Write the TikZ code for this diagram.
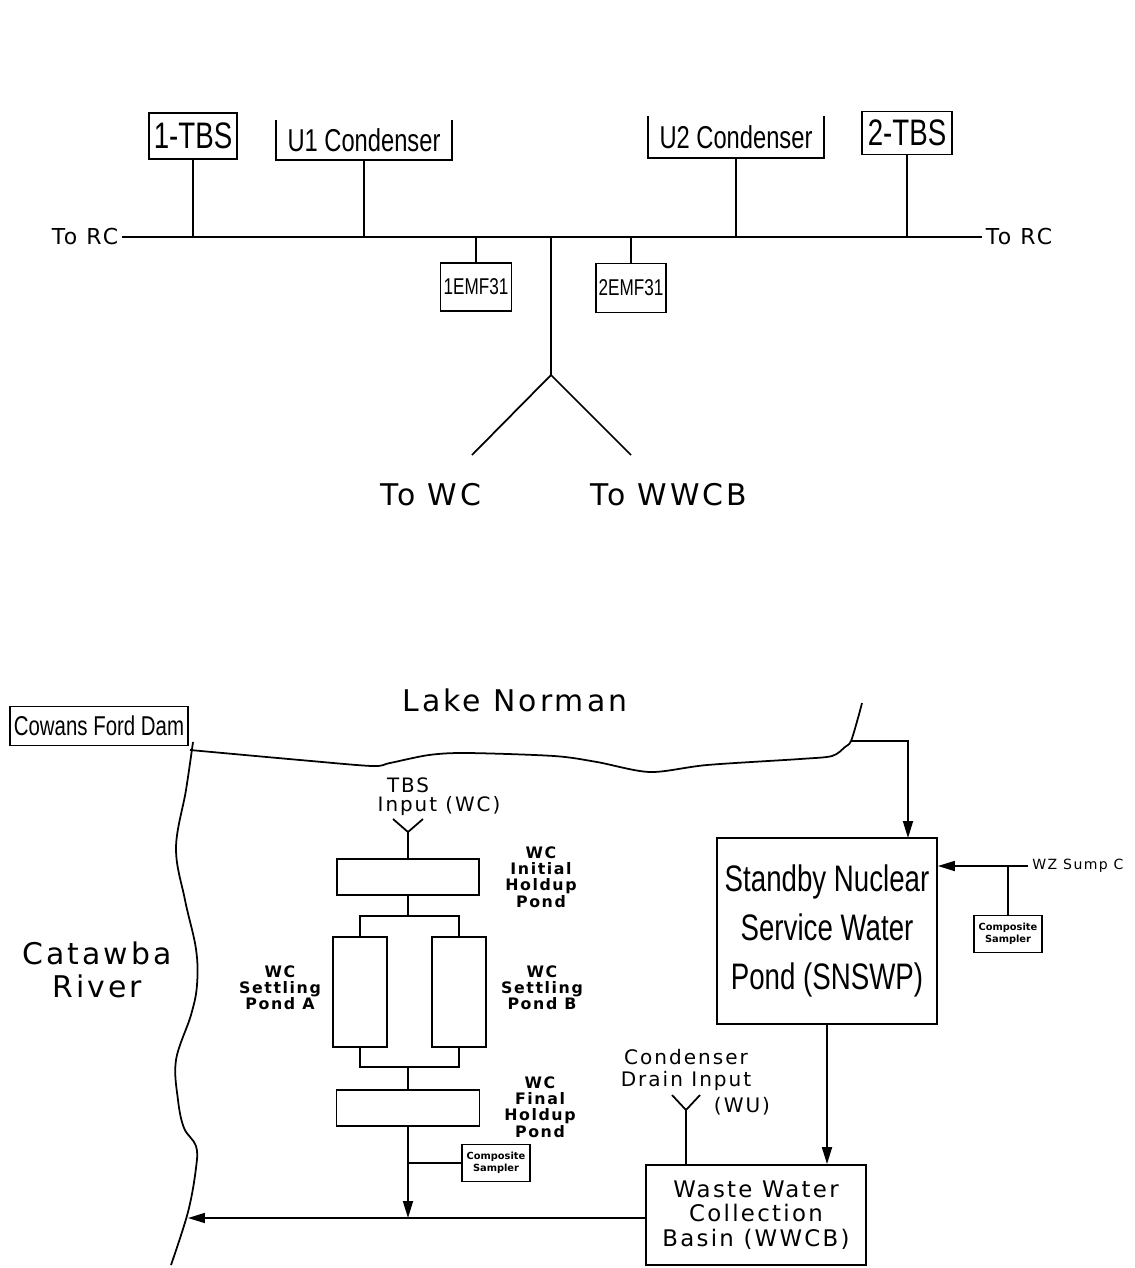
\documentclass[tikz,border=0pt]{standalone}
\usepackage{fontspec}
\setmainfont{Liberation Sans}
\newfontfamily\narrowfont[FakeStretch=0.75]{Liberation Sans}
\newfontfamily\widefont[LetterSpace=10]{DejaVu Sans}
\newfontfamily\smallfont{DejaVu Sans}
\usetikzlibrary{arrows.meta}
\newcommand\fsz[2]{\fontsize{#1}{#2}\selectfont}
\tikzset{
  tagbox/.style={draw,inner sep=0pt,font=\narrowfont},
  openbox/.style={inner sep=0pt,font=\narrowfont},
  pondbox/.style={draw,inner sep=0pt},
  sampler/.style={draw,inner sep=0pt,minimum width=1.35cm,minimum height=0.74cm,align=center,font=\smallfont\bfseries\fsz{5.6}{7}},
  txt/.style={inner sep=0pt,align=center,font=\widefont},
  pondtxt/.style={inner sep=0pt,align=center,font=\widefont\bfseries\fsz{9}{9.2}}
}

\begin{document}
\begin{tikzpicture}[x=0.02cm,y=-0.02cm,line width=1pt,>={Triangle[length=3.4mm,width=2mm]}]
  \useasboundingbox (0,0) rectangle (1135,1268);
  % colector de arriba
  \node[txt,inner sep=2pt,font=\widefont\fsz{12.5}{13}] (rcL) at (85,237) {To RC};
  \node[txt,inner sep=2pt,font=\widefont\fsz{12.5}{13}] (rcR) at (1019,237) {To RC};
  \draw (rcL.east) -- (rcR.west);
  \node[tagbox,minimum width=1.76cm,minimum height=0.92cm,font=\narrowfont\fsz{21}{23}] (tbsA) at (193,136) {1-TBS};
  \node[openbox,minimum width=3.48cm,minimum height=0.76cm,font=\narrowfont\fsz{18}{20}] (uA) at (364,140) {U1 Condenser};
  \node[openbox,minimum width=3.5cm,minimum height=0.8cm,font=\narrowfont\fsz{18}{20}] (uB) at (736,137) {U2 Condenser};
  \node[tagbox,minimum width=1.8cm,minimum height=0.86cm,font=\narrowfont\fsz{21}{23}] (tbsB) at (907,133) {2-TBS};
  \node[tagbox,minimum width=1.42cm,minimum height=0.96cm,font=\narrowfont\fsz{13}{14}] (emfA) at (476,287) {1EMF31};
  \node[tagbox,minimum width=1.4cm,minimum height=0.98cm,font=\narrowfont\fsz{13}{14}] (emfB) at (631,288) {2EMF31};
  \foreach \u in {uA,uB}
    \draw (\u.north west) -- (\u.south west) -- (\u.south east) -- (\u.north east);
  \foreach \b in {tbsA,uA,uB,tbsB}
    \draw (\b.south) -- (\b.south |- rcL.east);
  \foreach \b in {emfA,emfB}
    \draw (\b.north) -- (\b.north |- rcL.east);
  % salida en Y
  \coordinate (fork) at (551,375);
  \node[txt,font=\widefont\fsz{17}{18}] (toWC) at (431,495) {To WC};
  \node[txt,font=\widefont\fsz{17}{18}] (toWWCB) at (669,495) {To WWCB};
  \coordinate (forkL) at (472,455);
  \coordinate (forkR) at (631,455);
  \draw (fork |- rcL.east) -- (fork);
  \draw (forkL) -- (fork) -- (forkR);

  % lago y rio
  \node[txt,font=\widefont\fsz{17}{18}] (lake) at (515,700) {Lake Norman};
  \node[tagbox,minimum width=3.56cm,minimum height=0.78cm,font=\narrowfont\fsz{15.5}{17}] (dam) at (99,726) {Cowans Ford Dam};
  \node[txt,font=\widefont\fsz{17}{19}] (river) at (97,970) {Catawba\\River};
  \coordinate (lakeTap) at (851,741);
  \draw plot[smooth,tension=0.5] coordinates {(190,750) (300,760) (372,766) (390,763) (429,755) (467,753) (554,756) (597,762) (650,772) (707,765) (800,759) (832,756) (845,747) (851,741) (858,718) (862,703)};
  \draw plot[smooth,tension=0.6] coordinates {(193,742) (186,790) (176,848) (185,900) (196,949) (197,985) (191,1015) (176,1060) (178,1100) (184,1128) (196,1146) (196,1168) (188,1212) (171,1265)};
  \coordinate (riverIn) at (188,1218);

  % estanques WC
  \node[txt,font=\widefont\fsz{11.3}{12}] (tbsIn) at (408,785) {TBS};
  \node[txt,font=\widefont\fsz{11.3}{12}] (tbsIn2) at (439,806) {Input (WC)};
  \coordinate (tbsY) at (408,832);
  \draw ([xshift=-0.3cm,yshift=0.26cm]tbsY) -- (tbsY) -- ([xshift=0.3cm,yshift=0.26cm]tbsY);
  \node[pondbox,minimum width=2.84cm,minimum height=0.72cm] (initial) at (408,877) {};
  \node[pondbox,minimum width=1.08cm,minimum height=2.2cm] (pondA) at (360,992) {};
  \node[pondbox,minimum width=1.08cm,minimum height=2.2cm] (pondB) at (459,992) {};
  \node[pondbox,minimum width=2.86cm,minimum height=0.72cm] (final) at (408,1108) {};
  \node[sampler] (sampA) at (496,1163) {Composite\\Sampler};
  \coordinate (splitT) at (408,916);
  \coordinate (splitB) at (408,1067);
  \draw (tbsY) -- (initial.north);
  \draw (initial.south) -- (splitT);
  \draw (pondA.north) -- (pondA.north |- splitT) -- (pondB.north |- splitT) -- (pondB.north);
  \draw (pondA.south) -- (pondA.south |- splitB) -- (pondB.south |- splitB) -- (pondB.south);
  \draw (splitB) -- (final.north);
  \draw[->] (final.south) -- (final.south |- riverIn);
  \draw (sampA.west -| final.south) -- (sampA.west);
  \node[pondtxt] (lblInit) at (541,877) {WC\\Initial\\Holdup\\Pond};
  \node[pondtxt] (lblB) at (542,988) {WC\\Settling\\Pond B};
  \node[pondtxt] (lblA) at (280,988) {WC\\Settling\\Pond A};
  \node[pondtxt] (lblFin) at (540,1107) {WC\\Final\\Holdup\\Pond};

  % SNSWP y WWCB
  \node[tagbox,minimum width=4.4cm,minimum height=3.72cm,align=center,font=\narrowfont\fsz{21}{28}] (snswp) at (827,931) {Standby Nuclear\\Service Water\\Pond (SNSWP)};
  \node[draw,inner sep=0pt,minimum width=4.4cm,minimum height=2cm,align=center,font=\widefont\fsz{13}{13.8}] (wwcb) at (756,1215) {Waste Water\\Collection\\Basin (WWCB)};
  \coordinate (snswpIn) at (908,838);
  \draw[->] (lakeTap) -| (snswpIn);
  \node[txt,anchor=west,inner sep=2pt,font=\widefont\fsz{8}{9}] (wz) at (1028,866) {WZ Sump C};
  \node[sampler] (sampB) at (1008,934) {Composite\\Sampler};
  \draw[->] (wz.west) -- (wz.west -| snswp.east);
  \draw (sampB.north |- wz.west) -- (sampB.north);
  \draw[->] (snswp.south) -- (snswp.south |- wwcb.north);
  \node[txt,font=\widefont\fsz{11.4}{12.5}] (cdIn) at (686,1070) {Condenser\\Drain Input};
  \node[txt,font=\widefont\fsz{11.4}{12.5}] (wu) at (742,1106) {(WU)};
  \coordinate (cdY) at (686,1110);
  \draw ([xshift=-0.28cm,yshift=0.3cm]cdY) -- (cdY) -- ([xshift=0.28cm,yshift=0.3cm]cdY);
  \draw (cdY) -- (cdY |- wwcb.north);
  \draw[->] (wwcb.west |- riverIn) -- (riverIn);
\end{tikzpicture}
\end{document}
